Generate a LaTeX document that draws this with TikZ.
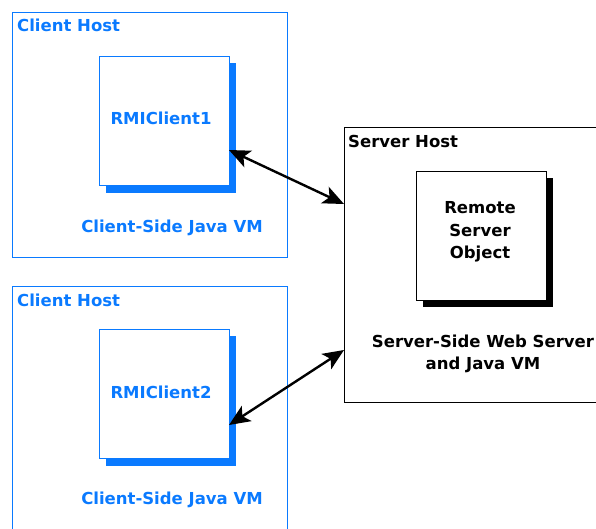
\documentclass[tikz,border=0pt]{standalone}
\usepackage{fontspec}
\setmainfont{DejaVu Sans}
\usetikzlibrary{arrows.meta,shadows}
\definecolor{cblue}{RGB}{10,122,255}
\begin{document}
\begin{tikzpicture}[x=1pt,y=-1pt,
  hostbox/.style={draw, line width=1.2pt, anchor=north west, inner sep=0pt},
  objbox/.style={draw, fill=white, line width=1.2pt, anchor=north west, inner sep=0pt,
     minimum width=130pt, minimum height=129pt, align=center},
  lbl/.style={font=\bfseries\fontsize{16.5}{22.5}\selectfont, inner sep=0pt},
  link/.style={line width=2.4pt, {Stealth[length=21pt,width=18pt,inset=5pt]}-{Stealth[length=21pt,width=18pt,inset=5pt]}}
]
\useasboundingbox (0,0) rectangle (596,528);
\begin{scope}
\clip (0,0) rectangle (596,528);
% client host 1
\node[hostbox, draw=cblue, minimum width=275pt, minimum height=245pt] (host1) at (12,12) {};
\fill[cblue] (106,63) rectangle (236,193);
\node[objbox, draw=cblue] (c1) at (99,56) {};
\node[lbl, text=cblue] (c1t) at (161,118) {RMIClient1};
\node[lbl, text=cblue, anchor=west] (h1t) at (17,25) {Client Host};
\node[lbl, text=cblue] (v1t) at (172,228) {Client-Side Java VM};
% client host 2
\node[hostbox, draw=cblue, minimum width=275pt, minimum height=260pt] (host2) at (12,286) {};
\fill[cblue] (106,336) rectangle (236,466);
\node[objbox, draw=cblue] (c2) at (99,329) {};
\node[lbl, text=cblue] (c2t) at (161,392) {RMIClient2};
\node[lbl, text=cblue, anchor=west] (h2t) at (17,300) {Client Host};
\node[lbl, text=cblue] (v2t) at (172,500) {Client-Side Java VM};
% server host
\node[hostbox, draw=black, minimum width=270pt, minimum height=275pt] (srv) at (344,127) {};
\fill[black] (423,178) rectangle (553,307);
\node[objbox, draw=black, minimum height=129pt] (so) at (416,171) {};
\node[lbl, align=center] (sot) at (480,232) {Remote\\Server\\Object};
\node[lbl, anchor=west] (st) at (348,141) {Server Host};
\node[lbl, align=center] (sst) at (483,354) {Server-Side Web Server\\and Java VM};
\end{scope}
% connectors
\coordinate (a1) at (229,150);
\coordinate (b1) at (344,204);
\coordinate (a2) at (229,425);
\coordinate (b2) at (344,350);
\draw[link] (a1) -- (b1);
\draw[link] (a2) -- (b2);
\end{tikzpicture}
\end{document}
